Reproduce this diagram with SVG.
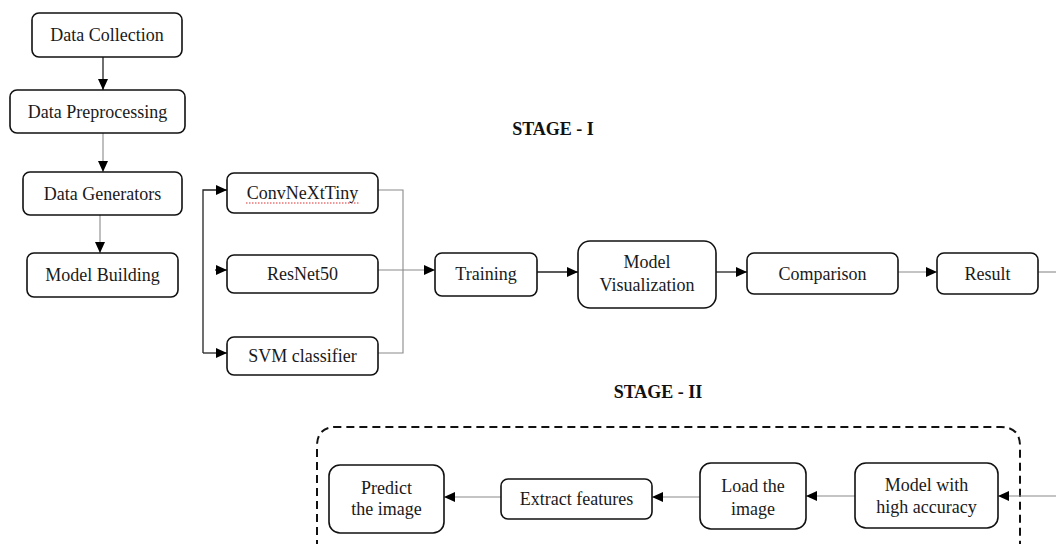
<svg xmlns="http://www.w3.org/2000/svg" width="1056" height="544" viewBox="0 0 1056 544">
  <style>
    .box { fill: #ffffff; stroke: #111111; stroke-width: 1.6; }
    .lbl { font-family: "Liberation Serif", "Times New Roman", serif; font-size: 18px; fill: #1a1a1a; text-anchor: middle; }
    .stage { font-family: "Liberation Serif", "Times New Roman", serif; font-size: 18px; font-weight: bold; fill: #111111; text-anchor: middle; }
    .dark { fill: none; stroke: #222222; stroke-width: 1.3; }
    .light { fill: none; stroke: #8a8a8a; stroke-width: 1.1; }
    .frame { fill: none; stroke: #111111; stroke-width: 2; stroke-dasharray: 8 5; }
  </style>
  <defs>
    <marker id="arrow" markerUnits="userSpaceOnUse" markerWidth="12" markerHeight="10" refX="11" refY="5" orient="auto">
      <path d="M0,0 L11,5 L0,10 Z" fill="#000000"/>
    </marker>
  </defs>

  <rect width="1056" height="544" fill="#ffffff"/>

  <!-- stage titles -->
  <text class="stage" x="553" y="135">STAGE - I</text>
  <text class="stage" x="658" y="398">STAGE - II</text>

  <!-- stage II frame -->
  <path class="frame" d="M317,548 L317,446 Q317,427 336,427 L1001,427 Q1020,427 1020,446 L1020,548"/>

  <!-- connectors -->
  <g id="connectors">
    <path class="dark" d="M103,57 L103,90" marker-end="url(#arrow)"/>
    <path class="light" d="M103,133 L103,172" marker-end="url(#arrow)"/>
    <path class="light" d="M100,215 L100,253" marker-end="url(#arrow)"/>
    <!-- fan-out into the three models -->
    <path class="dark" d="M203,353 L203,190 L227,190" marker-end="url(#arrow)"/>
    <path class="dark" d="M203,353 L227,353" marker-end="url(#arrow)"/>
    <path class="dark" d="M215,270 L227,270" marker-end="url(#arrow)"/>
    <!-- fan-in to training -->
    <path class="light" d="M378,190 L403,190 L403,353 L378,353"/>
    <path class="light" d="M378,270 L435,270" marker-end="url(#arrow)"/>
    <path class="dark" d="M537,272 L578,272" marker-end="url(#arrow)"/>
    <path class="dark" d="M716,272 L747,272" marker-end="url(#arrow)"/>
    <path class="light" d="M898,272 L937,272" marker-end="url(#arrow)"/>
    <path class="light" d="M1038,272 L1056,272"/>
    <!-- stage II chain, right to left -->
    <path class="light" d="M1056,496 L998,496" marker-end="url(#arrow)"/>
    <path class="light" d="M855,496 L806,496" marker-end="url(#arrow)"/>
    <path class="light" d="M700,497 L652,497" marker-end="url(#arrow)"/>
    <path class="light" d="M501,497 L444,497" marker-end="url(#arrow)"/>
  </g>

  <!-- stage I nodes -->
  <g id="data-collection">
    <rect class="box" x="32" y="13" width="150" height="44" rx="7"/>
    <text class="lbl" x="107" y="41">Data Collection</text>
  </g>
  <g id="data-preprocessing">
    <rect class="box" x="10" y="90" width="175" height="43" rx="7"/>
    <text class="lbl" x="97.5" y="118">Data Preprocessing</text>
  </g>
  <g id="data-generators">
    <rect class="box" x="23" y="172" width="159" height="43" rx="7"/>
    <text class="lbl" x="102.5" y="200">Data Generators</text>
  </g>
  <g id="model-building">
    <rect class="box" x="27" y="253" width="151" height="44" rx="7"/>
    <text class="lbl" x="102.5" y="281">Model Building</text>
  </g>
  <g id="convnext-tiny">
    <rect class="box" x="227" y="173" width="151" height="40" rx="7"/>
    <text class="lbl" x="302.5" y="199">ConvNeXtTiny</text>
    <line x1="246" y1="203" x2="359" y2="203" stroke="#e03030" stroke-width="1" stroke-dasharray="1.5 1.5"/>
  </g>
  <g id="resnet50">
    <rect class="box" x="227" y="255" width="151" height="38" rx="7"/>
    <text class="lbl" x="302.5" y="280">ResNet50</text>
  </g>
  <g id="svm-classifier">
    <rect class="box" x="227" y="337" width="151" height="38" rx="7"/>
    <text class="lbl" x="302.5" y="362">SVM classifier</text>
  </g>
  <g id="training">
    <rect class="box" x="435" y="253" width="102" height="43" rx="7"/>
    <text class="lbl" x="486" y="280">Training</text>
  </g>
  <g id="model-visualization">
    <rect class="box" x="578" y="241" width="138" height="67" rx="12"/>
    <text class="lbl" x="647" y="268">Model</text>
    <text class="lbl" x="647" y="291">Visualization</text>
  </g>
  <g id="comparison">
    <rect class="box" x="747" y="253" width="151" height="41" rx="7"/>
    <text class="lbl" x="822.5" y="280">Comparison</text>
  </g>
  <g id="result">
    <rect class="box" x="937" y="253" width="101" height="41" rx="7"/>
    <text class="lbl" x="987.5" y="280">Result</text>
  </g>

  <!-- stage II nodes -->
  <g id="model-high-accuracy">
    <rect class="box" x="855" y="463" width="143" height="65" rx="11"/>
    <text class="lbl" x="926.5" y="491">Model with</text>
    <text class="lbl" x="926.5" y="513">high accuracy</text>
  </g>
  <g id="load-image">
    <rect class="box" x="700" y="463" width="106" height="66" rx="11"/>
    <text class="lbl" x="753" y="492">Load the</text>
    <text class="lbl" x="753" y="515">image</text>
  </g>
  <g id="extract-features">
    <rect class="box" x="501" y="479" width="151" height="40" rx="7"/>
    <text class="lbl" x="576.5" y="505">Extract features</text>
  </g>
  <g id="predict-image">
    <rect class="box" x="329" y="465" width="115" height="68" rx="11"/>
    <text class="lbl" x="386.5" y="494">Predict</text>
    <text class="lbl" x="386.5" y="515">the image</text>
  </g>
</svg>
